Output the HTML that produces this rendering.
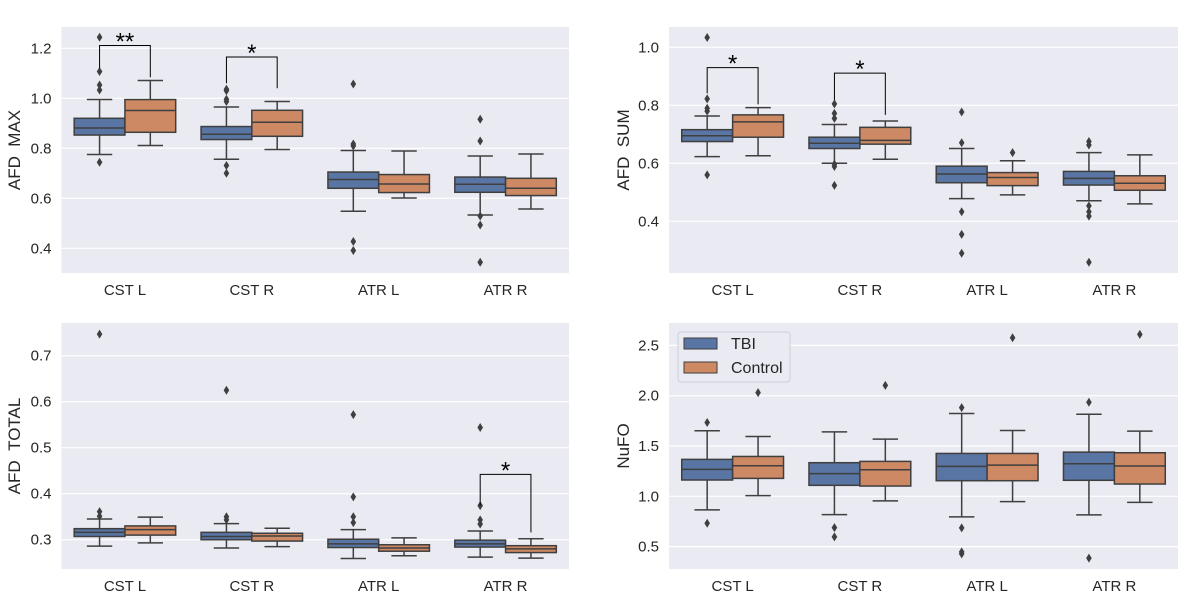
<!DOCTYPE html>
<html><head><meta charset="utf-8"><style>
html,body{margin:0;padding:0;background:#fff;}
svg{display:block;font-family:"Liberation Sans",Arial,sans-serif;}
</style></head><body>
<svg id="fig" width="1200" height="600" viewBox="0 0 1200 600" xmlns="http://www.w3.org/2000/svg"></svg>
<script>
const categories = ["CST L","CST R","ATR L","ATR R"];
// [lo, q1, med, q3, hi]
const maxTbi = [[0.775,0.853,0.881,0.92,0.995],[0.756,0.835,0.856,0.887,0.965],[0.548,0.64,0.675,0.705,0.791],[0.533,0.624,0.656,0.685,0.769]];
const maxCtl = [[0.811,0.864,0.951,0.995,1.071],[0.795,0.848,0.904,0.952,0.987],[0.601,0.623,0.657,0.695,0.789],[0.557,0.611,0.64,0.68,0.777]];
const maxTbiOut = [[1.244,1.107,1.053,1.033,0.744],[1.036,1.03,0.996,0.987,0.731,0.70],[1.057,0.817,0.809,0.427,0.391],[0.916,0.829,0.529,0.493,0.344]];
const maxCtlOut = [[],[],[],[]];
const sumTbi = [[0.623,0.675,0.695,0.716,0.763],[0.6,0.651,0.669,0.69,0.734],[0.478,0.533,0.563,0.59,0.651],[0.471,0.525,0.548,0.572,0.637]];
const sumCtl = [[0.626,0.69,0.743,0.767,0.792],[0.614,0.666,0.679,0.724,0.746],[0.491,0.523,0.551,0.568,0.609],[0.46,0.507,0.531,0.557,0.629]];
const sumTbiOut = [[1.034,0.822,0.79,0.78,0.56],[0.805,0.772,0.755,0.597,0.589,0.524],[0.777,0.671,0.433,0.355,0.29],[0.675,0.663,0.453,0.433,0.418,0.259]];
const sumCtlOut = [[],[],[0.637],[]];
const totTbi = [[0.286,0.307,0.316,0.324,0.345],[0.282,0.3,0.307,0.316,0.335],[0.259,0.283,0.291,0.301,0.322],[0.262,0.284,0.291,0.299,0.319]];
const totCtl = [[0.293,0.31,0.322,0.33,0.349],[0.285,0.297,0.308,0.314,0.325],[0.265,0.275,0.282,0.289,0.304],[0.26,0.272,0.28,0.287,0.302]];
const totTbiOut = [[0.747,0.361,0.351],[0.625,0.35,0.343],[0.572,0.393,0.35,0.337],[0.544,0.374,0.343,0.334]];
const totCtlOut = [[],[],[],[]];
const nufoTbi = [[0.865,1.162,1.268,1.367,1.651],[0.818,1.109,1.225,1.334,1.641],[0.795,1.155,1.297,1.426,1.823],[0.815,1.159,1.324,1.439,1.816]];
const nufoCtl = [[1.007,1.178,1.304,1.396,1.595],[0.954,1.102,1.264,1.347,1.568],[0.947,1.155,1.31,1.426,1.654],[0.94,1.122,1.301,1.433,1.648]];
const nufoTbiOut = [[1.733,0.732],[0.689,0.597],[1.882,0.686,0.448,0.428],[1.935,0.386]];
const nufoCtlOut = [[2.031],[2.103],[2.576],[2.609]];
const maxTicks = [0.4,0.6,0.8,1.0,1.2];
const sumTicks = [0.4,0.6,0.8,1.0];
const totTicks = [0.3,0.4,0.5,0.6,0.7];
const nufoTicks = [0.5,1.0,1.5,2.0,2.5];
// brackets: [category index, top, leftLegBottom, rightLegBottom, label]
const maxSig = [[0,1.211,1.12,1.084,"**"],[1,1.165,1.06,1.04,"*"]];
const sumSig = [[0,0.93,0.841,0.803,"*"],[1,0.911,0.818,0.767,"*"]];
const totSig = [[3,0.442,0.375,0.316,"*"]];
const nufoSig = [];

const NS="http://www.w3.org/2000/svg";
const svg=document.getElementById('fig');
function mk(tag,attrs,parent){const e=document.createElementNS(NS,tag);for(const k in attrs)e.setAttribute(k,attrs[k]);(parent||svg).appendChild(e);return e;}
const BLUE="#5875a4",ORANGE="#cc8963",LINE="#3f3f3f",TXT="#262626";

function panel(p){
  const g=mk('g',{});
  
  
  const yS=v=>p.y0-(v-p.v0)*p.k;
  const bg=mk('rect',{x:p.x,y:p.top,width:p.w,height:p.h,fill:'#eaeaf2'},g);
  
  
  p.ticks.forEach(t=>{
    const y=yS(t);
    const gl=mk('line',{x1:p.x,x2:p.x+p.w,y1:y,y2:y,stroke:'#fff','stroke-width':1.2},g);
    
    
    const tl=mk('text',{x:p.x-10,y:y+5,'text-anchor':'end','font-size':15,fill:TXT},g);
    tl.textContent=t.toFixed(1);
    
    
  });
  const bw=p.w/4;
  const xC=i=>p.x+bw*i+bw/2;
  categories.forEach((c,i)=>{
    const xl=mk('text',{x:xC(i),y:p.top+p.h+22,'text-anchor':'middle','font-size':15,fill:TXT},g);
    xl.textContent=c;
    
    
  });
  const boxW=bw*0.4;
  [[p.tbi,p.tbiOut,BLUE,-1,'tbi'],[p.ctl,p.ctlOut,ORANGE,1,'control']].forEach(([d,out,col,side,nm])=>{
    d.forEach((s,i)=>{
      const cx=xC(i)+side*boxW/2;
      const bx=mk('g',{},g);
      
      
      const [lo,q1,md,q3,hi]=s;
      mk('line',{x1:cx,x2:cx,y1:yS(lo),y2:yS(q1),stroke:LINE,'stroke-width':1.5},bx);
      mk('line',{x1:cx,x2:cx,y1:yS(hi),y2:yS(q3),stroke:LINE,'stroke-width':1.5},bx);
      mk('line',{x1:cx-boxW/4,x2:cx+boxW/4,y1:yS(lo),y2:yS(lo),stroke:LINE,'stroke-width':1.5},bx);
      mk('line',{x1:cx-boxW/4,x2:cx+boxW/4,y1:yS(hi),y2:yS(hi),stroke:LINE,'stroke-width':1.5},bx);
      mk('rect',{x:cx-boxW/2,y:yS(q3),width:boxW,height:yS(q1)-yS(q3),fill:col,stroke:LINE,'stroke-width':1.5},bx);
      mk('line',{x1:cx-boxW/2,x2:cx+boxW/2,y1:yS(md),y2:yS(md),stroke:LINE,'stroke-width':1.5},bx);
      out[i].forEach(v=>{
        const y=yS(v);
        const f=mk('path',{d:`M${cx} ${y-4.5}L${cx+2.8} ${y}L${cx} ${y+4.5}L${cx-2.8} ${y}Z`,fill:LINE},bx);
        
        
      });
    });
  });
  p.sig.forEach(([i,top,lb,rb,lab])=>{
    const sg=mk('g',{},g);
    
    
    const xl=xC(i)-boxW/2,xr=xC(i)+boxW/2;
    mk('path',{d:`M${xl} ${yS(lb)}V${yS(top)}H${xr}V${yS(rb)}`,fill:'none',stroke:'#000','stroke-width':1},sg);
    const t=mk('text',{x:(xl+xr)/2,y:yS(top)+4,'text-anchor':'middle','font-size':24,fill:'#000'},sg);
    t.textContent=lab;
  });
  const yl=mk('text',{x:0,y:0,'text-anchor':'middle','font-size':17,fill:TXT,transform:`translate(${p.labX},${p.top+p.h/2}) rotate(-90)`},g);
  yl.textContent=p.ylabel;
  
  
}

panel({name:'panel-afd-max',x:61.5,w:507.5,top:27,h:246,y0:98.3,v0:1.0,k:250,ticks:maxTicks,tbi:maxTbi,ctl:maxCtl,tbiOut:maxTbiOut,ctlOut:maxCtlOut,sig:maxSig,ylabel:'AFD\u00a0\u00a0MAX',labX:20});
panel({name:'panel-afd-sum',x:669,w:509,top:27,h:246,y0:163.3,v0:0.6,k:290,ticks:sumTicks,tbi:sumTbi,ctl:sumCtl,tbiOut:sumTbiOut,ctlOut:sumCtlOut,sig:sumSig,ylabel:'AFD\u00a0\u00a0SUM',labX:629});
panel({name:'panel-afd-total',x:61.5,w:507.5,top:323,h:246,y0:539.7,v0:0.3,k:460,ticks:totTicks,tbi:totTbi,ctl:totCtl,tbiOut:totTbiOut,ctlOut:totCtlOut,sig:totSig,ylabel:'AFD\u00a0\u00a0TOTAL',labX:20});
panel({name:'panel-nufo',x:669,w:509,top:323,h:246,y0:496.3,v0:1.0,k:100.6,ticks:nufoTicks,tbi:nufoTbi,ctl:nufoCtl,tbiOut:nufoTbiOut,ctlOut:nufoCtlOut,sig:nufoSig,ylabel:'NuFO',labX:629});

const lg=mk('g',{});


mk('rect',{x:678,y:332,width:112,height:50,rx:3,fill:'#eaeaf2',stroke:'#cfcfd6','stroke-width':1},lg);
[['TBI',BLUE,338,'legend-entry-tbi'],['Control',ORANGE,362,'legend-entry-control']].forEach(([t,c,y,nm])=>{
  const e=mk('g',{},lg);
  
  
  mk('rect',{x:684,y:y,width:33,height:11,fill:c,stroke:LINE,'stroke-width':1},e);
  const tx=mk('text',{x:731,y:y+11,'font-size':16,fill:TXT},e);
  tx.textContent=t;
});
</script>
</body></html>
